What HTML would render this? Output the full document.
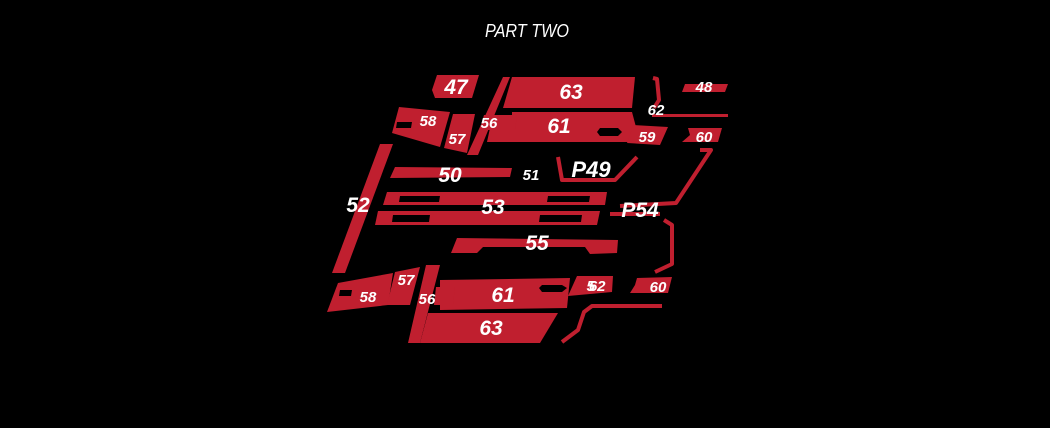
<!DOCTYPE html>
<html><head><style>
html,body{margin:0;padding:0;background:#000;width:1050px;height:428px;overflow:hidden}
svg{display:block}
.t{font-family:"Liberation Sans",sans-serif;font-weight:bold;font-style:italic;fill:#fff;text-anchor:middle}
</style></head><body>
<svg width="1050" height="428" viewBox="0 0 1050 428" xmlns="http://www.w3.org/2000/svg">
<text x="485" y="37" font-family="Liberation Sans Narrow,Liberation Sans,sans-serif" font-style="italic" font-size="18" fill="#fff" textLength="84" lengthAdjust="spacingAndGlyphs">PART TWO</text>
<g fill="#c01f2f">
<polygon points="437,75 479,75 472,98 435,98 432,90"/>
<polygon points="512,77 635,77 632,108 503,108"/>
<polygon points="503,77 510,77 478,155 467,155"/>
<polygon points="512,112 632,112 640,142 487,142 490,128 512,128"/>
<polygon points="484,115 517,115 515,130 480,130"/>
<polygon points="399,107 450,112 440,147 392,133"/>
<polygon points="453,114 475,114 467,153 444,148"/>
<polygon points="685,84 728,84 725,92 682,92"/>
<polygon points="652,114 728,114 728,117 652,117"/>
<polygon points="633,125 668,127 660,145 627,143 630,135"/>
<polygon points="688,128 722,128 718,142 682,142 690,135"/>
<polygon points="380,144 393,144 345,273 332,273"/>
<polygon points="395,167 512,168 510,177 390,178"/>
<polygon points="387,192 607,192 605,205 383,205"/>
<polygon points="378,211 600,211 597,225 375,225"/>
<polygon points="457,238 618,240 617,253 590,254 585,247 483,247 477,253 451,253"/>
<polygon points="338,283 393,273 388,305 327,312"/>
<polygon points="395,272 420,267 410,305 387,305"/>
<polygon points="426,265 440,265 420,343 408,343"/>
<polygon points="440,280 570,278 567,308 440,310"/>
<polygon points="436,287 455,287 453,305 434,305"/>
<polygon points="428,313 558,313 540,343 420,343"/>
<polygon points="577,276 613,276 612,292 568,296"/>
<polygon points="637,278 672,277 668,293 630,293 635,285"/>
</g>
<g fill="#000">
<polygon points="397,122 412,122 411,128 396,128"/>
<polygon points="600,128 618,128 622,132 618,136 600,136 597,132"/>
<polygon points="400,196 440,196 439,202 399,202"/>
<polygon points="548,196 590,196 589,202 547,202"/>
<polygon points="393,215 430,215 429,222 392,222"/>
<polygon points="540,215 582,215 581,222 539,222"/>
<polygon points="340,290 352,290 351,296 339,296"/>
<polygon points="542,285 562,285 567,288 562,292 542,292 539,288"/>
</g>
<g fill="none" stroke="#c01f2f" stroke-width="4" stroke-linejoin="round">
<path d="M653,78 L657,79 L659,100 L654,108"/>
<path d="M700,150 L711,150 L676,203 L620,206"/>
<path d="M558,157 L562,180 L615,180 L637,157"/>
<path d="M664,220 L672,225 L672,264 L655,272"/>
<path d="M662,306 L592,306 L584,312 L578,330 L562,342"/>
<path d="M610,214 L660,214"/>
</g>
<g class="t">
<text x="456" y="94" font-size="21">47</text>
<text x="571" y="99" font-size="21">63</text>
<text x="704" y="92" font-size="15">48</text>
<text x="428" y="126" font-size="15">58</text>
<text x="489" y="128" font-size="15">56</text>
<text x="457" y="144" font-size="15">57</text>
<text x="559" y="133" font-size="21">61</text>
<text x="656" y="115" font-size="15">62</text>
<text x="647" y="142" font-size="15">59</text>
<text x="704" y="142" font-size="15">60</text>
<text x="450" y="182" font-size="21">50</text>
<text x="531" y="180" font-size="15">51</text>
<text x="591" y="177" font-size="22">P49</text>
<text x="358" y="212" font-size="21">52</text>
<text x="493" y="214" font-size="21">53</text>
<text x="640" y="217" font-size="21">P54</text>
<text x="537" y="250" font-size="21">55</text>
<text x="406" y="285" font-size="15">57</text>
<text x="368" y="302" font-size="15">58</text>
<text x="427" y="304" font-size="15">56</text>
<text x="503" y="302" font-size="21">61</text>
<text x="596" y="291" font-size="15">5<tspan dx="-6">62</tspan></text>
<text x="658" y="292" font-size="15">60</text>
<text x="491" y="335" font-size="21">63</text>
</g>
</svg>
</body></html>
